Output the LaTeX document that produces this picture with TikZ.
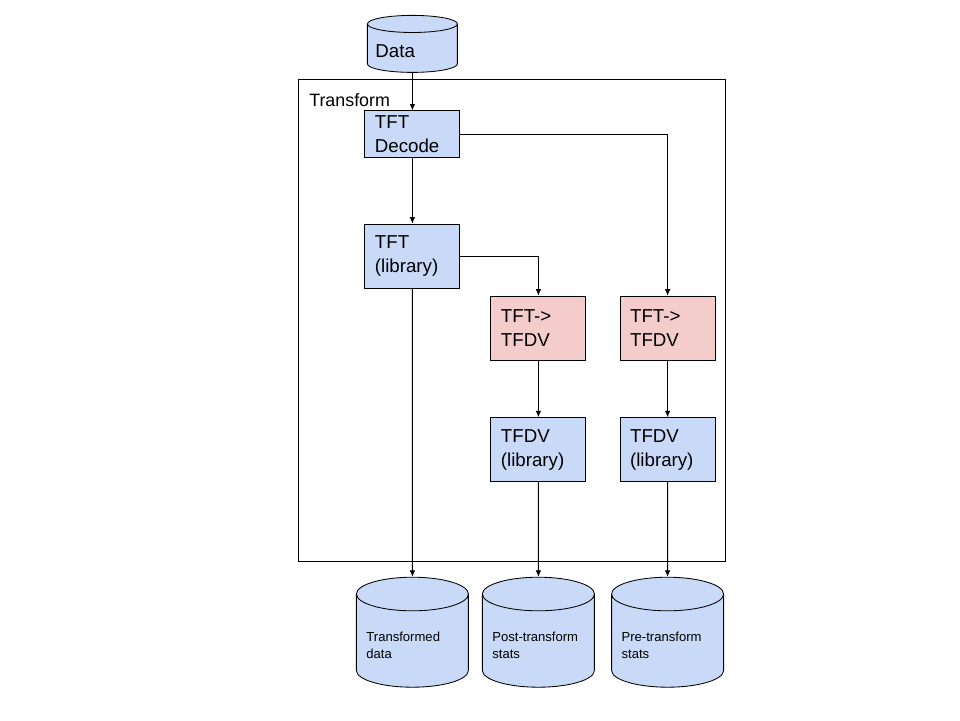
\documentclass[tikz,border=0pt]{standalone}
\usepackage{fontspec}
\setmainfont{Liberation Sans}
\usetikzlibrary{positioning,arrows.meta,shapes.geometric}
\definecolor{paleblue}{RGB}{201,218,248}
\definecolor{palered}{RGB}{244,204,204}
\tikzset{
  blk/.style={draw=black, line width=0.6pt, fill=#1, align=left, minimum height=1.6cm, text width=1.875cm, inner xsep=0.25cm, font=\fontsize{13.3}{17}\selectfont},
  blk/.default={paleblue},
  store/.style={draw=black, line width=0.6pt, fill=paleblue, cylinder, shape border rotate=90, aspect=0.3, minimum width=2.8cm, minimum height=2.75cm, text width=2.3cm, inner xsep=0.25cm, align=left, font=\fontsize{9.3}{12}\selectfont},
  flow/.style={-{Latex[length=1.6mm,width=1.4mm]}, line width=0.6pt}
}

\begin{document}
\begin{tikzpicture}
  \useasboundingbox (0,0) rectangle (24,-18);
  \node[draw, line width=0.6pt, minimum width=10.675cm, minimum height=12.05cm, inner sep=0] (frame) at (12.81,-8.0) {};
  \node[anchor=west, inner sep=0, font=\fontsize{12.7}{14}\selectfont] (tlabel) at (7.725,-2.5) {Transform};
  \node[store, aspect=0.19, minimum width=2.25cm, minimum height=1.425cm, text width=1.85cm, inner xsep=0.2cm, font=\fontsize{13.3}{15}\selectfont] (data) at (10.31,-1.27) {Data};
  \node[blk, minimum height=1.1cm] (dec) at (10.31,-3.35) {TFT\\Decode};
  \node[blk] (tftlib) at (10.31,-6.4) {TFT\\(library)};
  \node[blk=palered] (conv1) at (13.46,-8.2) {TFT-\textgreater\\TFDV};
  \node[blk=palered] (conv2) at (16.69,-8.2) {TFT-\textgreater\\TFDV};
  \node[blk] (stats1) at (13.46,-11.24) {TFDV\\(library)};
  \node[blk] (stats2) at (16.69,-11.24) {TFDV\\(library)};
  \node[store] (outdata) at (10.31,-16.14) {Transformed\\data};
  \node[store] (poststats) at (13.46,-16.14) {Post-transform\\stats};
  \node[store] (prestats) at (16.69,-16.14) {Pre-transform\\stats};
  \draw[flow] (data) -- (dec);
  \draw[flow] (dec) -- (tftlib);
  \draw[flow] (tftlib) -- (outdata);
  \draw[flow] (dec.east) -| (conv2.north);
  \draw[flow] (tftlib.east) -| (conv1.north);
  \foreach \a/\b in {conv1/stats1, conv2/stats2, stats1/poststats, stats2/prestats} \draw[flow] (\a) -- (\b);
\end{tikzpicture}
\end{document}
